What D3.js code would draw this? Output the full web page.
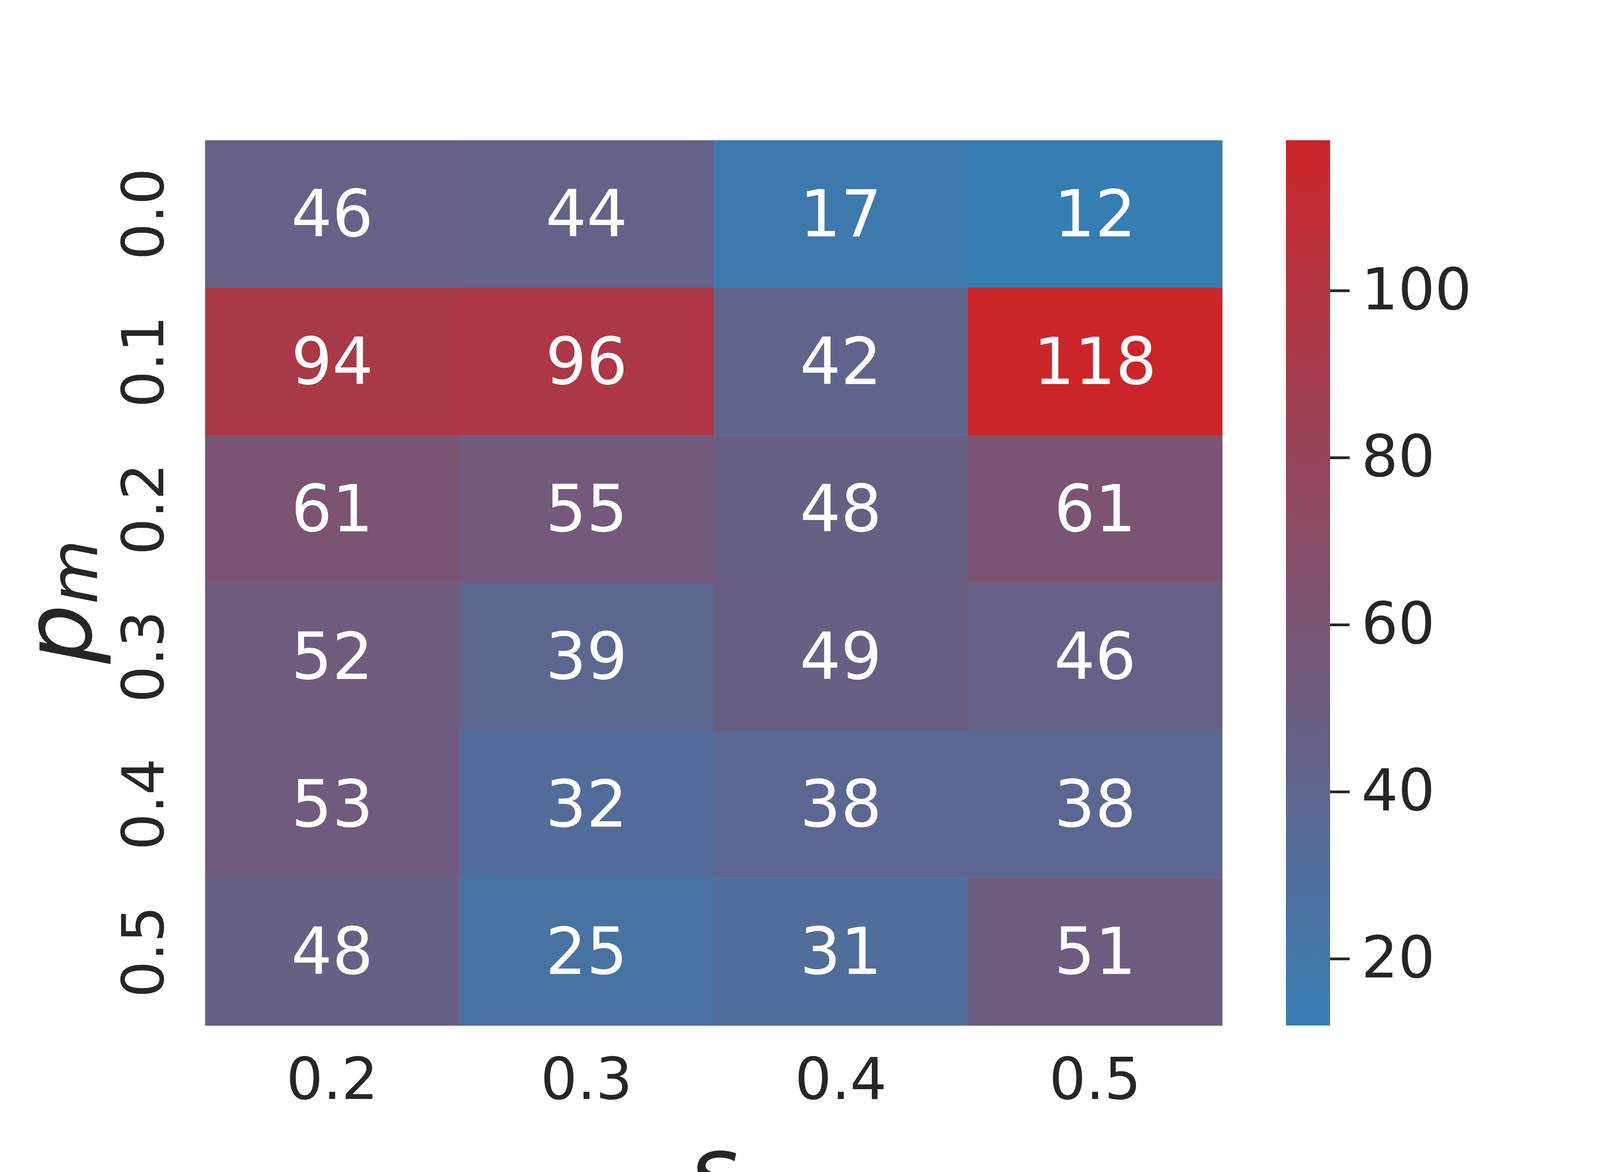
<!DOCTYPE html>
<html><head><meta charset="utf-8">
<script src="https://cdn.jsdelivr.net/npm/d3@7"></script>
<style>body{margin:0;background:#fff}</style>
</head><body>
<svg id="c" width="4200" height="3000"></svg>
<script>
const xCats = ["0.2","0.3","0.4","0.5"];
const yCats = ["0.0","0.1","0.2","0.3","0.4","0.5"];
const values = [
  [46,44,17,12],
  [94,96,42,118],
  [61,55,48,61],
  [52,39,49,46],
  [53,32,38,38],
  [48,25,31,51]
];
const cbTicks = [20,40,60,80,100];

const svg = d3.select("#c");
const font = "DejaVu Sans";
const L=525,R=3129,T=359,B=2625;
const x = d3.scaleBand().domain(xCats).range([L,R]);
const y = d3.scaleBand().domain(yCats).range([T,B]);
const color = d3.scaleLinear().domain([12,118]).range(["#367db3","#cc2529"]).interpolate(d3.interpolateRgb);

const cells=[];
values.forEach((row,i)=>row.forEach((v,j)=>cells.push({r:yCats[i],c:xCats[j],v})));
svg.selectAll("rect.cell").data(cells).join("rect")
  .attr("x",d=>x(d.c)).attr("y",d=>y(d.r))
  .attr("width",x.bandwidth()+0.5).attr("height",y.bandwidth()+0.5)
  .attr("fill",d=>color(d.v));
svg.selectAll("text.val").data(cells).join("text")
  .attr("x",d=>x(d.c)+x.bandwidth()/2).attr("y",d=>y(d.r)+y.bandwidth()/2)
  .attr("text-anchor","middle").attr("dominant-baseline","central")
  .attr("font-family",font).attr("font-size",165).attr("fill","#fff")
  .text(d=>d.v);

svg.selectAll("text.xt").data(xCats).join("text")
  .attr("x",d=>x(d)+x.bandwidth()/2).attr("y",2813)
  .attr("text-anchor","middle").attr("font-family",font).attr("font-size",148).attr("fill","#262626")
  .text(d=>d);
svg.selectAll("text.yt").data(yCats).join("text")
  .attr("transform",d=>`translate(367,${y(d)+y.bandwidth()/2}) rotate(-90)`)
  .attr("text-anchor","middle").attr("dominant-baseline","central")
  .attr("font-family",font).attr("font-size",148).attr("fill","#262626")
  .text(d=>d);

const yl = svg.append("text").attr("transform","translate(150,1540) rotate(-90)")
  .attr("text-anchor","middle").attr("dominant-baseline","central")
  .attr("font-family",font).attr("font-style","italic").attr("font-size",240).attr("fill","#262626");
yl.append("tspan").text("p");
yl.append("tspan").attr("font-size",170).attr("dy",40).text("m");
svg.append("text").attr("x",1827).attr("y",3080).attr("text-anchor","middle")
  .attr("font-family",font).attr("font-style","italic").attr("font-size",240).attr("fill","#262626").text("s");

const cbX=3292,cbW=113;
const cy = d3.scaleLinear().domain([12,118]).range([B,T]);
const defs=svg.append("defs");
const g=defs.append("linearGradient").attr("id","cg").attr("x1",0).attr("y1",1).attr("x2",0).attr("y2",0);
g.append("stop").attr("offset","0%").attr("stop-color",color(12));
g.append("stop").attr("offset","100%").attr("stop-color",color(118));
svg.append("rect").attr("x",cbX).attr("y",T).attr("width",cbW).attr("height",B-T).attr("fill","url(#cg)");
const ax = svg.append("g").attr("transform",`translate(${cbX+cbW},0)`)
  .call(d3.axisRight(cy).tickValues(cbTicks).tickSize(50).tickPadding(30));
ax.select(".domain").remove();
ax.selectAll("line").attr("stroke","#262626").attr("stroke-width",7);
ax.selectAll("text").attr("font-family",font).attr("font-size",148).attr("fill","#262626");
</script>
</body></html>
